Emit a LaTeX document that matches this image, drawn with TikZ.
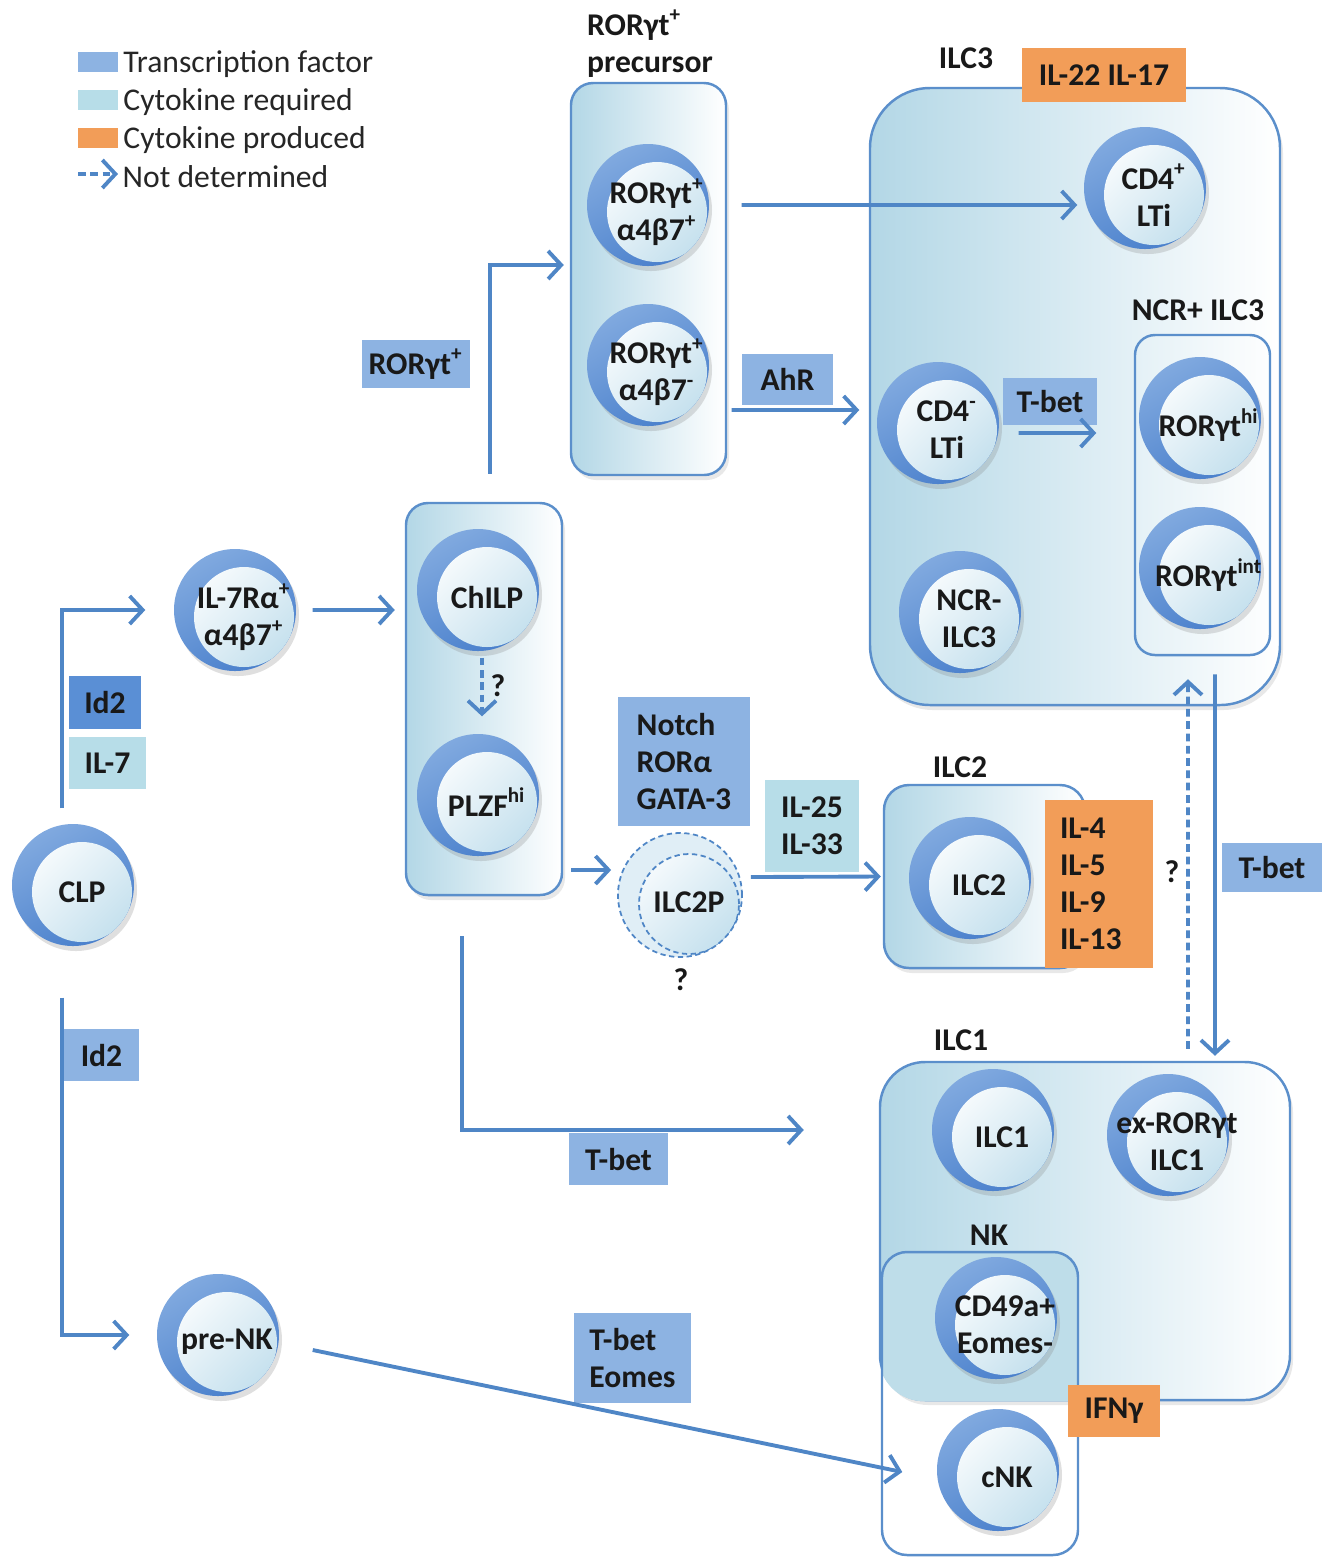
\documentclass[tikz,border=0pt]{standalone}
\usepackage{fontspec}
\setmainfont{Carlito}
\usetikzlibrary{positioning,arrows.meta,shadows}
\definecolor{lineblue}{HTML}{4F86C6}
\definecolor{tfblue}{HTML}{8DB3E2}
\definecolor{tfdark}{HTML}{5A8FD5}
\definecolor{cytoblue}{HTML}{B7DDE8}
\definecolor{prodorange}{HTML}{F29D58}
\definecolor{groupblue}{HTML}{B3D7E6}
\definecolor{groupedge}{HTML}{5B8FCB}
\definecolor{ringtop}{HTML}{80A9DF}
\definecolor{ringbottom}{HTML}{4A80CC}
\definecolor{innerblue}{HTML}{C6E1EE}
\definecolor{nkblue}{HTML}{BEDDE9}

\begin{document}
\begin{tikzpicture}[x=1mm, y=1mm,
  every node/.style={font=\fontsize{9}{10.5}\selectfont\bfseries, text=black!90},
  flow/.style={draw=lineblue, line width=1.1pt, -{Straight Barb[length=1.3mm,width=2.8mm]}},
  guess/.style={flow, dash pattern=on 2.2pt off 1.3pt},
  group/.style={draw=groupedge, line width=0.7pt, left color=groupblue, right color=white,
    drop shadow={opacity=0.18, shadow xshift=0.3mm, shadow yshift=-0.5mm}},
  frame/.style={draw=groupedge, line width=0.7pt},
  celltext/.style={align=center, inner sep=0pt, shift={(0.9mm,-0.7mm)}},
  cell/.style={circle, minimum size=12.2mm, inner sep=0pt,
    top color=ringtop, bottom color=ringbottom, shading angle=30,
    drop shadow={opacity=0.25, shadow xshift=0.3mm, shadow yshift=-0.5mm},
    path picture={\shade[top color=white, bottom color=innerblue, shading angle=45]
      ([shift={(0.9mm,-0.7mm)}]path picture bounding box.center) circle (5mm);},
    label={[celltext]center:#1}},
  dashcell/.style={circle, minimum size=12.4mm, inner sep=0pt, draw=lineblue, line width=0.5pt,
    dash pattern=on 1.5pt off 1pt, fill=innerblue!55,
    path picture={\draw[lineblue, line width=0.5pt, dash pattern=on 1.5pt off 1pt,
      top color=white, bottom color=innerblue, shading angle=45]
      ([shift={(0.9mm,-0.9mm)}]path picture bounding box.center) circle (5mm);},
    label={[celltext]center:#1}},
  tf/.style={fill=tfblue, inner sep=0pt, align=center},
  tfdk/.style={fill=tfdark, inner sep=0pt, align=center},
  need/.style={fill=cytoblue, inner sep=0pt, align=center},
  made/.style={fill=prodorange, inner sep=0pt, align=center},
  legend/.style={font=\fontsize{9}{11}\selectfont\mdseries, inner sep=0pt, text=black!85, yshift=-0.25mm}]
\useasboundingbox (0,0) rectangle (132.9,-155.8);

% legend
\node[tf, minimum width=4mm, minimum height=2mm] (keytf) at (9.8,-6.2) {};
\node[legend, right=0.4mm of keytf] (keytftext) {Transcription factor};
\node[need, minimum width=4mm, minimum height=2mm] (keyneed) at (9.8,-10.0) {};
\node[legend, right=0.4mm of keyneed] (keyneedtext) {Cytokine required};
\node[made, minimum width=4mm, minimum height=2mm] (keymade) at (9.8,-13.8) {};
\node[legend, right=0.4mm of keymade] (keymadetext) {Cytokine produced};
\coordinate (ndstart) at (7.8,-17.4);
\coordinate (ndend) at (11.8,-17.4);
\draw[guess] (ndstart) -- (ndend);
\node[legend, right=0.4mm of ndend] (ndtext) {Not determined};

% groups
\node[group, minimum width=15.5mm, minimum height=39.2mm, rounded corners=2.2mm] (prebox) at (64.85,-27.9) {};
\node[group, minimum width=15.6mm, minimum height=39.2mm, rounded corners=2.2mm] (chilpbox) at (48.4,-69.9) {};
\node[group, minimum width=41mm, minimum height=61.7mm, rounded corners=6mm] (ilc3box) at (107.5,-39.65) {};
\node[frame, minimum width=13.5mm, minimum height=32mm, rounded corners=2mm] (ncrbox) at (120.25,-49.5) {};
\node[group, minimum width=20.1mm, minimum height=18.3mm, rounded corners=2.5mm] (ilc2box) at (98.45,-87.65) {};
\node[group, minimum width=41mm, minimum height=33.8mm, rounded corners=4.5mm] (ilc1box) at (108.5,-123.1) {};
\begin{scope}
  \clip[rounded corners=4.5mm] (ilc1box.south west) rectangle (ilc1box.north east);
  \fill[nkblue, rounded corners=2.5mm] (88.2,-125.2) rectangle (107.8,-155.5);
\end{scope}
\node[frame, minimum width=19.6mm, minimum height=30.3mm, rounded corners=2.5mm] (nkbox) at (98.0,-140.35) {};

% titles
\node[align=left] (pretitle) at (65.0,-4.35) {RORγt\textsuperscript{+}\\precursor};
\node (ilc3title) at (96.6,-5.8) {ILC3};
\node (ncrtitle) at (119.8,-31.0) {NCR+ ILC3};
\node (ilc2title) at (96.0,-76.7) {ILC2};
\node (ilc1title) at (96.1,-104.0) {ILC1};
\node (nktitle) at (98.9,-123.5) {NK};

% cells
\node[cell={CLP}] (clp) at (7.3,-88.5) {};
\node[cell={IL-7Rα\textsuperscript{+}\\α4β7\textsuperscript{+}}] (il7) at (23.5,-61.0) {};
\node[cell={pre-NK}] (prenk) at (21.8,-133.5) {};
\node[cell={ChILP}] (chilp) at (47.8,-59.0) {};
\node[cell={PLZF\textsuperscript{hi}}] (plzf) at (47.8,-79.5) {};
\node[cell={RORγt\textsuperscript{+}\\α4β7\textsuperscript{+}}] (ror4p) at (64.8,-20.5) {};
\node[cell={RORγt\textsuperscript{+}\\α4β7\textsuperscript{-}}] (ror4m) at (64.8,-36.5) {};
\node[cell={CD4\textsuperscript{+}\\LTi}] (cd4p) at (114.5,-18.8) {};
\node[cell={CD4\textsuperscript{-}\\LTi}] (cd4m) at (93.8,-42.3) {};
\node[cell={NCR-\\ILC3}] (ncrm) at (96.0,-61.2) {};
\node[cell={RORγt\textsuperscript{hi}}] (rorhi) at (120.0,-41.8) {};
\node[cell={RORγt\textsuperscript{int}}] (rorint) at (120.0,-56.8) {};
\node[dashcell={ILC2P}] (ilc2p) at (68.0,-89.5) {};
\node[cell={ILC2}] (ilc2) at (97.0,-87.8) {};
\node[cell={ILC1}] (ilc1) at (99.3,-113.0) {};
\node[cell={ex-RORγt\\ILC1}] (exror) at (116.8,-113.5) {};
\node[cell={CD49a+\\Eomes-}] (cd49) at (99.6,-131.8) {};
\node[cell={cNK}] (cnk) at (99.8,-147.0) {};

% factors and cytokines
\node[tf, minimum width=10.8mm, minimum height=4.8mm] (rorlab) at (41.6,-36.4) {RORγt\textsuperscript{+}};
\node[tf, minimum width=9.1mm, minimum height=5.1mm] (ahr) at (78.75,-37.95) {AhR};
\node[tf, minimum width=9.4mm, minimum height=4.7mm] (tbet3) at (105.0,-40.15) {T-bet};
\node[tfdk, minimum width=7.2mm, minimum height=5.3mm] (id2a) at (10.5,-70.25) {Id2};
\node[need, minimum width=7.7mm, minimum height=5.2mm] (il7lab) at (10.75,-76.3) {IL-7};
\node[tf, minimum width=13.2mm, minimum height=12.9mm, align=left] (notch) at (68.4,-76.15) {Notch\\RORα\\GATA-3};
\node[need, minimum width=9.4mm, minimum height=9.2mm] (il25) at (81.2,-82.6) {IL-25\\IL-33};
\node[made, minimum width=10.8mm, minimum height=16.8mm, text width=7.8mm, align=left] (il4) at (109.9,-88.4) {IL-4\\IL-5\\IL-9\\IL-13};
\node[tf, minimum width=10mm, minimum height=4.9mm] (tbetr) at (127.2,-86.75) {T-bet};
\node[tf, minimum width=7.5mm, minimum height=5.2mm] (id2b) at (10.15,-105.5) {Id2};
\node[tf, minimum width=9.9mm, minimum height=5.2mm] (tbetb) at (61.85,-115.9) {T-bet};
\node[tf, minimum width=11.7mm, minimum height=9mm, align=left] (tbeteo) at (63.25,-135.8) {T-bet\\Eomes};
\node[made, minimum width=16.4mm, minimum height=5.4mm] (il22) at (110.4,-7.5) {IL-22 IL-17};
\node[made, minimum width=9.2mm, minimum height=5.2mm] (ifng) at (111.4,-141.1) {IFNγ};

% question marks
\node (q1) at (49.8,-68.6) {?};
\node (q2) at (68.1,-98.0) {?};
\node (q3) at (117.2,-87.2) {?};

% arrows
\draw[flow] ([xshift=-1.1mm,yshift=1.5mm]clp.north) |- ([xshift=-2.8mm]il7.west);
\draw[flow] ([xshift=1.6mm]il7.east) -- ([xshift=-1mm,yshift=8.9mm]chilpbox.west);
\draw[flow] ([xshift=0.6mm,yshift=2.8mm]chilpbox.north) |- ([xshift=-0.6mm,yshift=1.4mm]prebox.west);
\draw[flow] ([xshift=3.2mm]ror4p.east) -- ([xshift=-0.6mm,yshift=-1.7mm]cd4p.west);
\draw[flow] ([xshift=2.2mm,yshift=-4.5mm]ror4m.east) -- ([xshift=-1.7mm,yshift=1.3mm]cd4m.west);
\draw[flow] ([xshift=1.9mm,yshift=-1mm]cd4m.east) -- ([xshift=-4.2mm,yshift=-1.5mm]rorhi.west);
\draw[guess] ([xshift=0.4mm,yshift=-0.6mm]chilp.south) -- ([xshift=0.4mm,yshift=1.7mm]plzf.north);
\draw[flow] ([xshift=0.8mm,yshift=-17.1mm]chilpbox.east) -- ([xshift=-0.6mm,yshift=2.5mm]ilc2p.west);
\draw[flow] ([xshift=0.8mm,yshift=1.8mm]ilc2p.east) -- ([xshift=-0.2mm]ilc2box.west);
\draw[flow] ([xshift=-2.2mm,yshift=-4mm]chilpbox.south) |- ([xshift=-7.5mm,yshift=10.1mm]ilc1box.west);
\draw[flow] ([xshift=-1.1mm,yshift=-5.1mm]clp.south) |- ([xshift=-2.7mm]prenk.west);
\draw[flow] ([xshift=3.3mm,yshift=-1.5mm]prenk.east) -- ([xshift=-3.4mm,yshift=-0.2mm]cnk.west);
\draw[flow] ([xshift=14mm,yshift=3.2mm]ilc3box.south) -- ([xshift=13mm,yshift=0.5mm]ilc1box.north);
\draw[guess] ([xshift=10.3mm,yshift=1.2mm]ilc1box.north) -- ([xshift=11.3mm,yshift=2.7mm]ilc3box.south);
\end{tikzpicture}
\end{document}
